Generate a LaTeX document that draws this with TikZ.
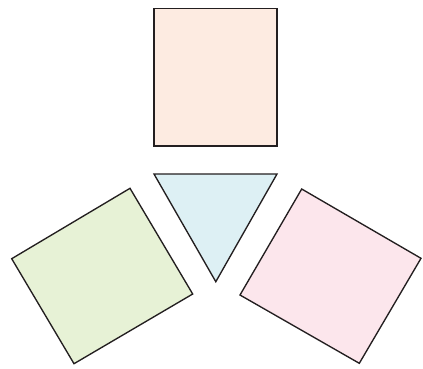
\documentclass[tikz,border=0pt]{standalone}
\definecolor{peach}{HTML}{FDEBE1}
\definecolor{skyc}{HTML}{DDF0F4}
\definecolor{limec}{HTML}{E7F2D6}
\definecolor{rosec}{HTML}{FCE6EC}
\definecolor{edgec}{HTML}{231F20}
\begin{document}
\begin{tikzpicture}[x=1pt,y=-1pt,
  shapeedge/.style={draw=edgec,line width=1.35pt,line join=miter}]
\useasboundingbox (0,0) rectangle (423,368);
% top rectangle
\filldraw[shapeedge,fill=peach] (154,8.3) rectangle (277,146);
% triangle
\filldraw[shapeedge,fill=skyc] (154,174) -- (277,174) -- (215.8,281.7) -- cycle;
% left rectangle
\filldraw[shapeedge,fill=limec] (11.7,258.7) -- (130,188.3) -- (192.7,294) -- (74,363.7) -- cycle;
% right rectangle
\filldraw[shapeedge,fill=rosec] (301.7,189) -- (421,258.3) -- (359.3,363.3) -- (240,295) -- cycle;
\end{tikzpicture}
\end{document}
